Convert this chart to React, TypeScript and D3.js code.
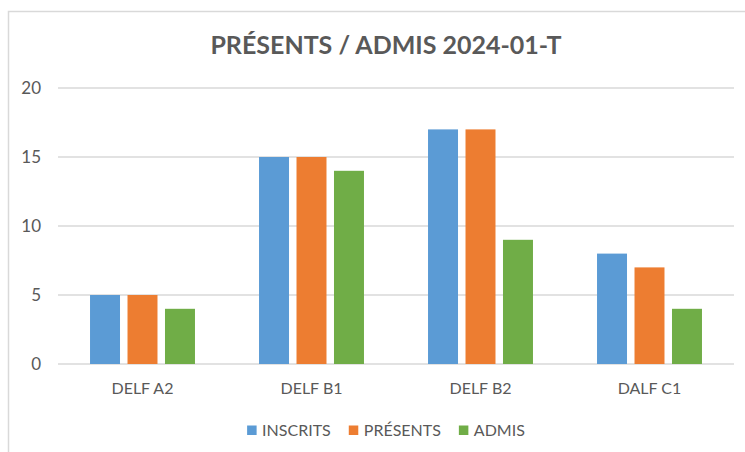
import React, { useEffect, useRef } from 'react';
import * as d3 from 'd3';

const categories = ['DELF A2', 'DELF B1', 'DELF B2', 'DALF C1'];
const seriesNames = ['INSCRITS', 'PRÉSENTS', 'ADMIS'];
const inscrits = [5, 15, 17, 8];
const presents = [5, 15, 17, 7];
const admis = [4, 14, 9, 4];
const yTicks = [0, 5, 10, 15, 20];
const colors = ['#5B9BD5', '#ED7D31', '#70AD47'];
const title = 'PRÉSENTS / ADMIS 2024-01-T';

const App = () => {
  const ref = useRef<SVGSVGElement | null>(null);
  const width = 745;
  const height = 452;

  useEffect(() => {
    if (!ref.current) return;
    const svg = d3.select(ref.current);
    svg.selectAll('*').remove();

    const values = [inscrits, presents, admis];
    const font = 'Lato, "Open Sans", sans-serif';
    const textColor = '#595959';
    const grid = '#d9d9d9';
    const center = 386;

    // chart border (runs off the right / bottom edge like the reference)
    svg.append('rect')
      .attr('x', 8.5).attr('y', 11.5)
      .attr('width', 800).attr('height', 500)
      .attr('fill', '#fff')
      .attr('stroke', grid)
      .attr('stroke-width', 1.5);

    const x0 = d3.scaleBand<string>()
      .domain(categories)
      .range([58, 734])
      .paddingInner(0.379)
      .paddingOuter(0.379 / 2);

    const x1 = d3.scaleBand<string>()
      .domain(seriesNames)
      .range([0, x0.bandwidth()])
      .paddingInner(0.2);

    const y = d3.scaleLinear().domain([0, 20]).range([364, 88]);

    svg.append('text')
      .attr('x', center).attr('y', 54)
      .attr('text-anchor', 'middle')
      .style('font-family', font)
      .style('font-weight', 'bold')
      .style('font-size', '25px')
      .style('fill', textColor)
      .text(title);

    svg.append('g').selectAll('line')
      .data(yTicks)
      .enter().append('line')
      .attr('x1', 58).attr('x2', 734)
      .attr('y1', d => y(d)).attr('y2', d => y(d))
      .attr('stroke', grid)
      .attr('stroke-width', 1.5);

    svg.append('g').selectAll('text')
      .data(yTicks)
      .enter().append('text')
      .attr('x', 41).attr('y', d => y(d))
      .attr('dy', '0.35em')
      .attr('text-anchor', 'end')
      .style('font-family', font)
      .style('font-size', '17px')
      .style('fill', textColor)
      .text(d => d);

    const groups = svg.append('g').selectAll('g')
      .data(categories)
      .enter().append('g')
      .attr('transform', d => `translate(${x0(d)},0)`);

    groups.selectAll('rect')
      .data((_, i) => seriesNames.map((s, j) => ({ s, v: values[j][i], j })))
      .enter().append('rect')
      .attr('x', d => x1(d.s) as number)
      .attr('width', x1.bandwidth())
      .attr('y', d => y(d.v))
      .attr('height', d => y(0) - y(d.v))
      .attr('fill', d => colors[d.j]);

    svg.append('g').selectAll('text')
      .data(categories)
      .enter().append('text')
      .attr('x', d => (x0(d) as number) + x0.bandwidth() / 2)
      .attr('y', 394)
      .attr('text-anchor', 'middle')
      .style('font-family', font)
      .style('font-size', '16px')
      .style('fill', textColor)
      .text(d => d);

    // legend, laid out from measured text widths and centred
    const legend = svg.append('g');
    const items = legend.selectAll('g')
      .data(seriesNames)
      .enter().append('g');
    items.append('rect')
      .attr('width', 9.5).attr('height', 9.5)
      .attr('y', 425.5)
      .attr('fill', (_, i) => colors[i]);
    const labels = items.append('text')
      .attr('x', 15)
      .attr('y', 436)
      .style('font-family', font)
      .style('font-size', '16px')
      .style('fill', textColor)
      .text(d => d);
    const widths = labels.nodes().map(n => (n as SVGTextElement).getComputedTextLength() + 15);
    const gap = 18;
    const total = d3.sum(widths) + gap * (widths.length - 1);
    let cx = center - total / 2;
    items.attr('transform', (_, i) => {
      const t = `translate(${cx},0)`;
      cx += widths[i] + gap;
      return t;
    });
  }, []);

  return (
    <svg
      ref={ref}
      width={width}
      height={height}
      style={{ position: 'absolute', left: 0, top: 0, background: '#fff' }}
    ></svg>
  );
};

export default App;
